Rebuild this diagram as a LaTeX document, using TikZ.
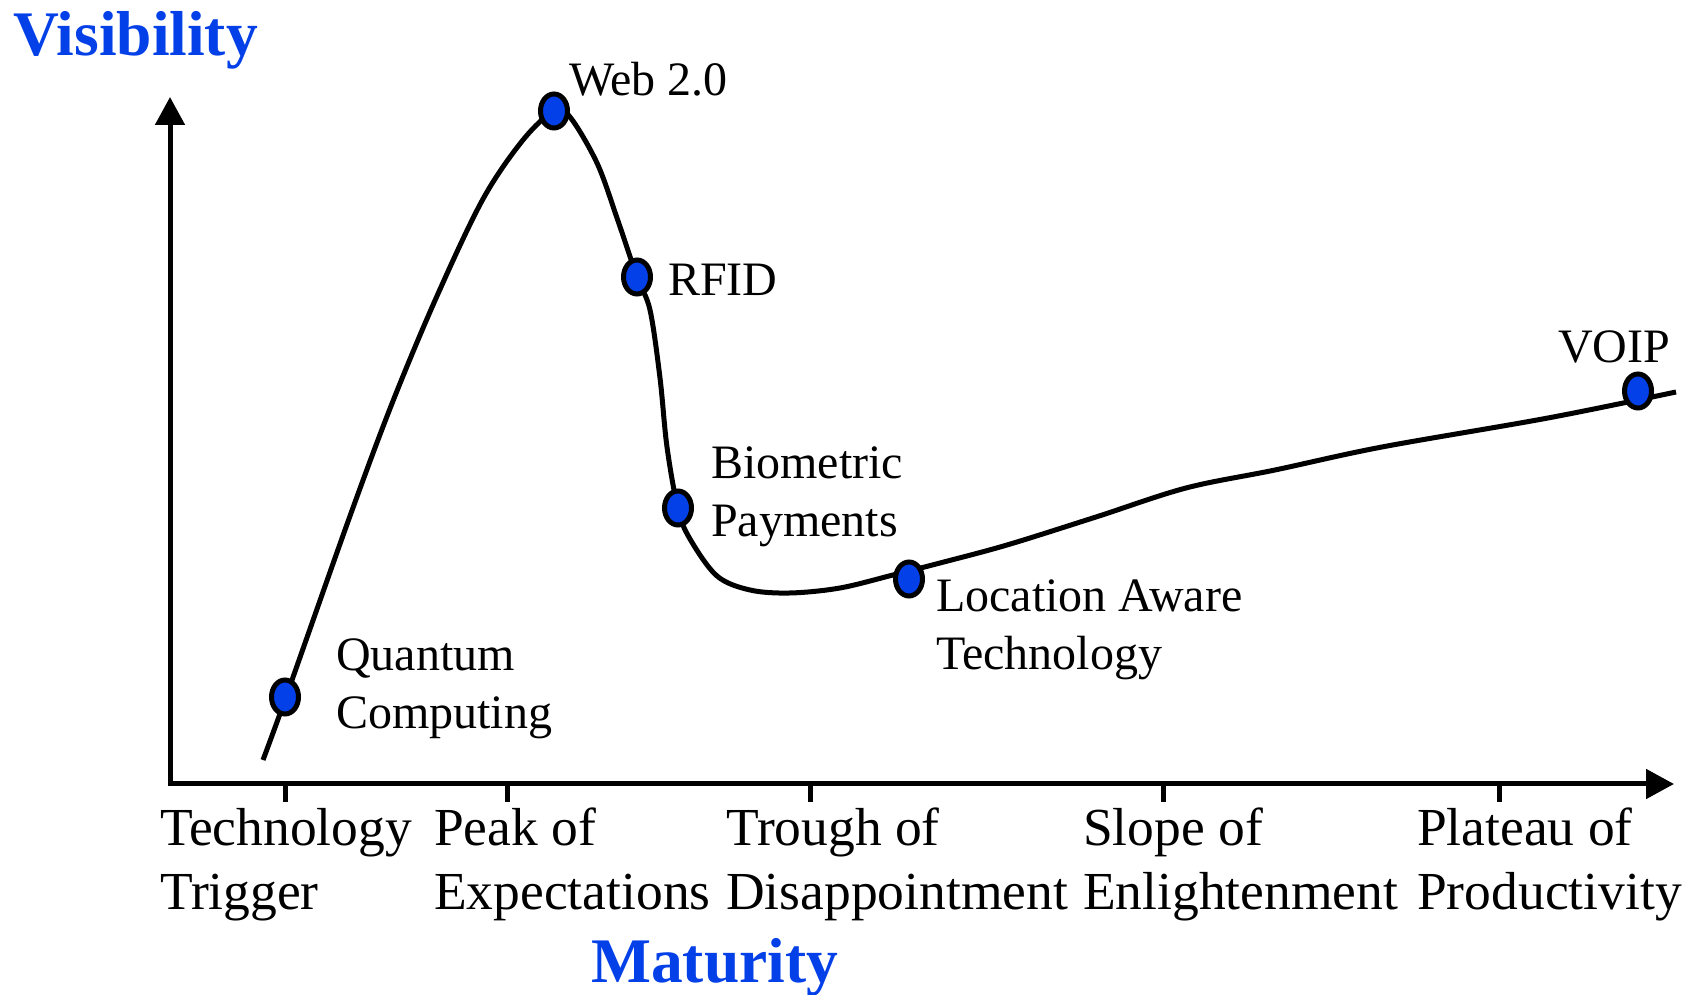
\documentclass[tikz,border=0pt]{standalone}
\usepackage{fontspec}
\setmainfont{Liberation Serif}
\usetikzlibrary{arrows.meta,positioning,shapes.geometric}
\definecolor{hypeblue}{RGB}{4,64,232}

\begin{document}
\begin{tikzpicture}[
  x=1pt, y=1pt,
  eje/.style={line width=5pt, {Triangle[length=28pt, width=29pt]}-{Triangle[length=28pt, width=29pt]}},
  curva/.style={line width=5pt},
  marca/.style={line width=5pt},
  punto/.style={ellipse, draw, line width=5pt, fill=hypeblue, minimum width=27pt, minimum height=34pt, inner sep=0pt},
  etiq/.style={anchor=base west, inner sep=0pt, align=left, font=\fontsize{48}{58}\selectfont},
  fase/.style={anchor=base west, inner sep=0pt, align=left, font=\fontsize{53.5}{64}\selectfont},
  titulo/.style={anchor=base west, inner sep=0pt, text=hypeblue, font=\fontsize{63.5}{70}\selectfont\bfseries}
]
\useasboundingbox (0,0) rectangle (1694,995);
\coordinate (O) at (170,211);
\coordinate (ytip) at (170,898);
\coordinate (xtip) at (1674,211);
\draw[eje] (ytip) -- (O) -- (xtip);
% phases along the maturity axis (node base = last line)
\foreach \tx/\lx/\txt [count=\i] in {285/160/{Technology\\Trigger}, 507/434/{Peak of\\Expectations},
    810/726/{Trough of\\Disappointment}, 1163/1083/{Slope of\\Enlightenment}, 1499/1417/{Plateau of\\Productivity}} {
  \draw[marca] (\tx,211) -- (\tx,193);
  \node[fase] (fase\i) at (\lx,85) {\txt};
}
% hype curve
\draw[curva] plot[smooth, tension=0.55] coordinates {(263,235) (286,298) (350,479) (393,594) (437,699)
  (483,796) (523,855) (554,884) (570,878) (597,832) (617,777) (637,718) (650,685) (660,617)
  (667,548) (678,486) (690,456) (717,419) (750,405) (790,402) (840,407) (893,420) (940,432)
  (1007,450) (1096,478) (1186,507) (1275,525) (1382,548) (1548,577) (1676,603)};
\node[punto] (qc) at (285,298) {};
\node[punto] (web) at (554,884) {};
\node[punto] (rfid) at (637,718) {};
\node[punto] (bio) at (678,487) {};
\node[punto] (loc) at (909,416) {};
\node[punto] (voip) at (1638,604) {};
\node[etiq] (lqc) at (336,266) {Quantum\\Computing};
\node[etiq] (lweb) at (569,899) {Web 2.0};
\node[etiq] (lrfid) at (668,699) {RFID};
\node[etiq] (lbio) at (711,458) {Biometric\\Payments};
\node[etiq] (lloc) at (936,325) {Location Aware\\Technology};
\node[etiq] (lvoip) at (1558,632) {VOIP};
\node[titulo] (vis) at (13,939) {Visibility};
\node[titulo] (mat) at (591,12) {Maturity};
\end{tikzpicture}
\end{document}
